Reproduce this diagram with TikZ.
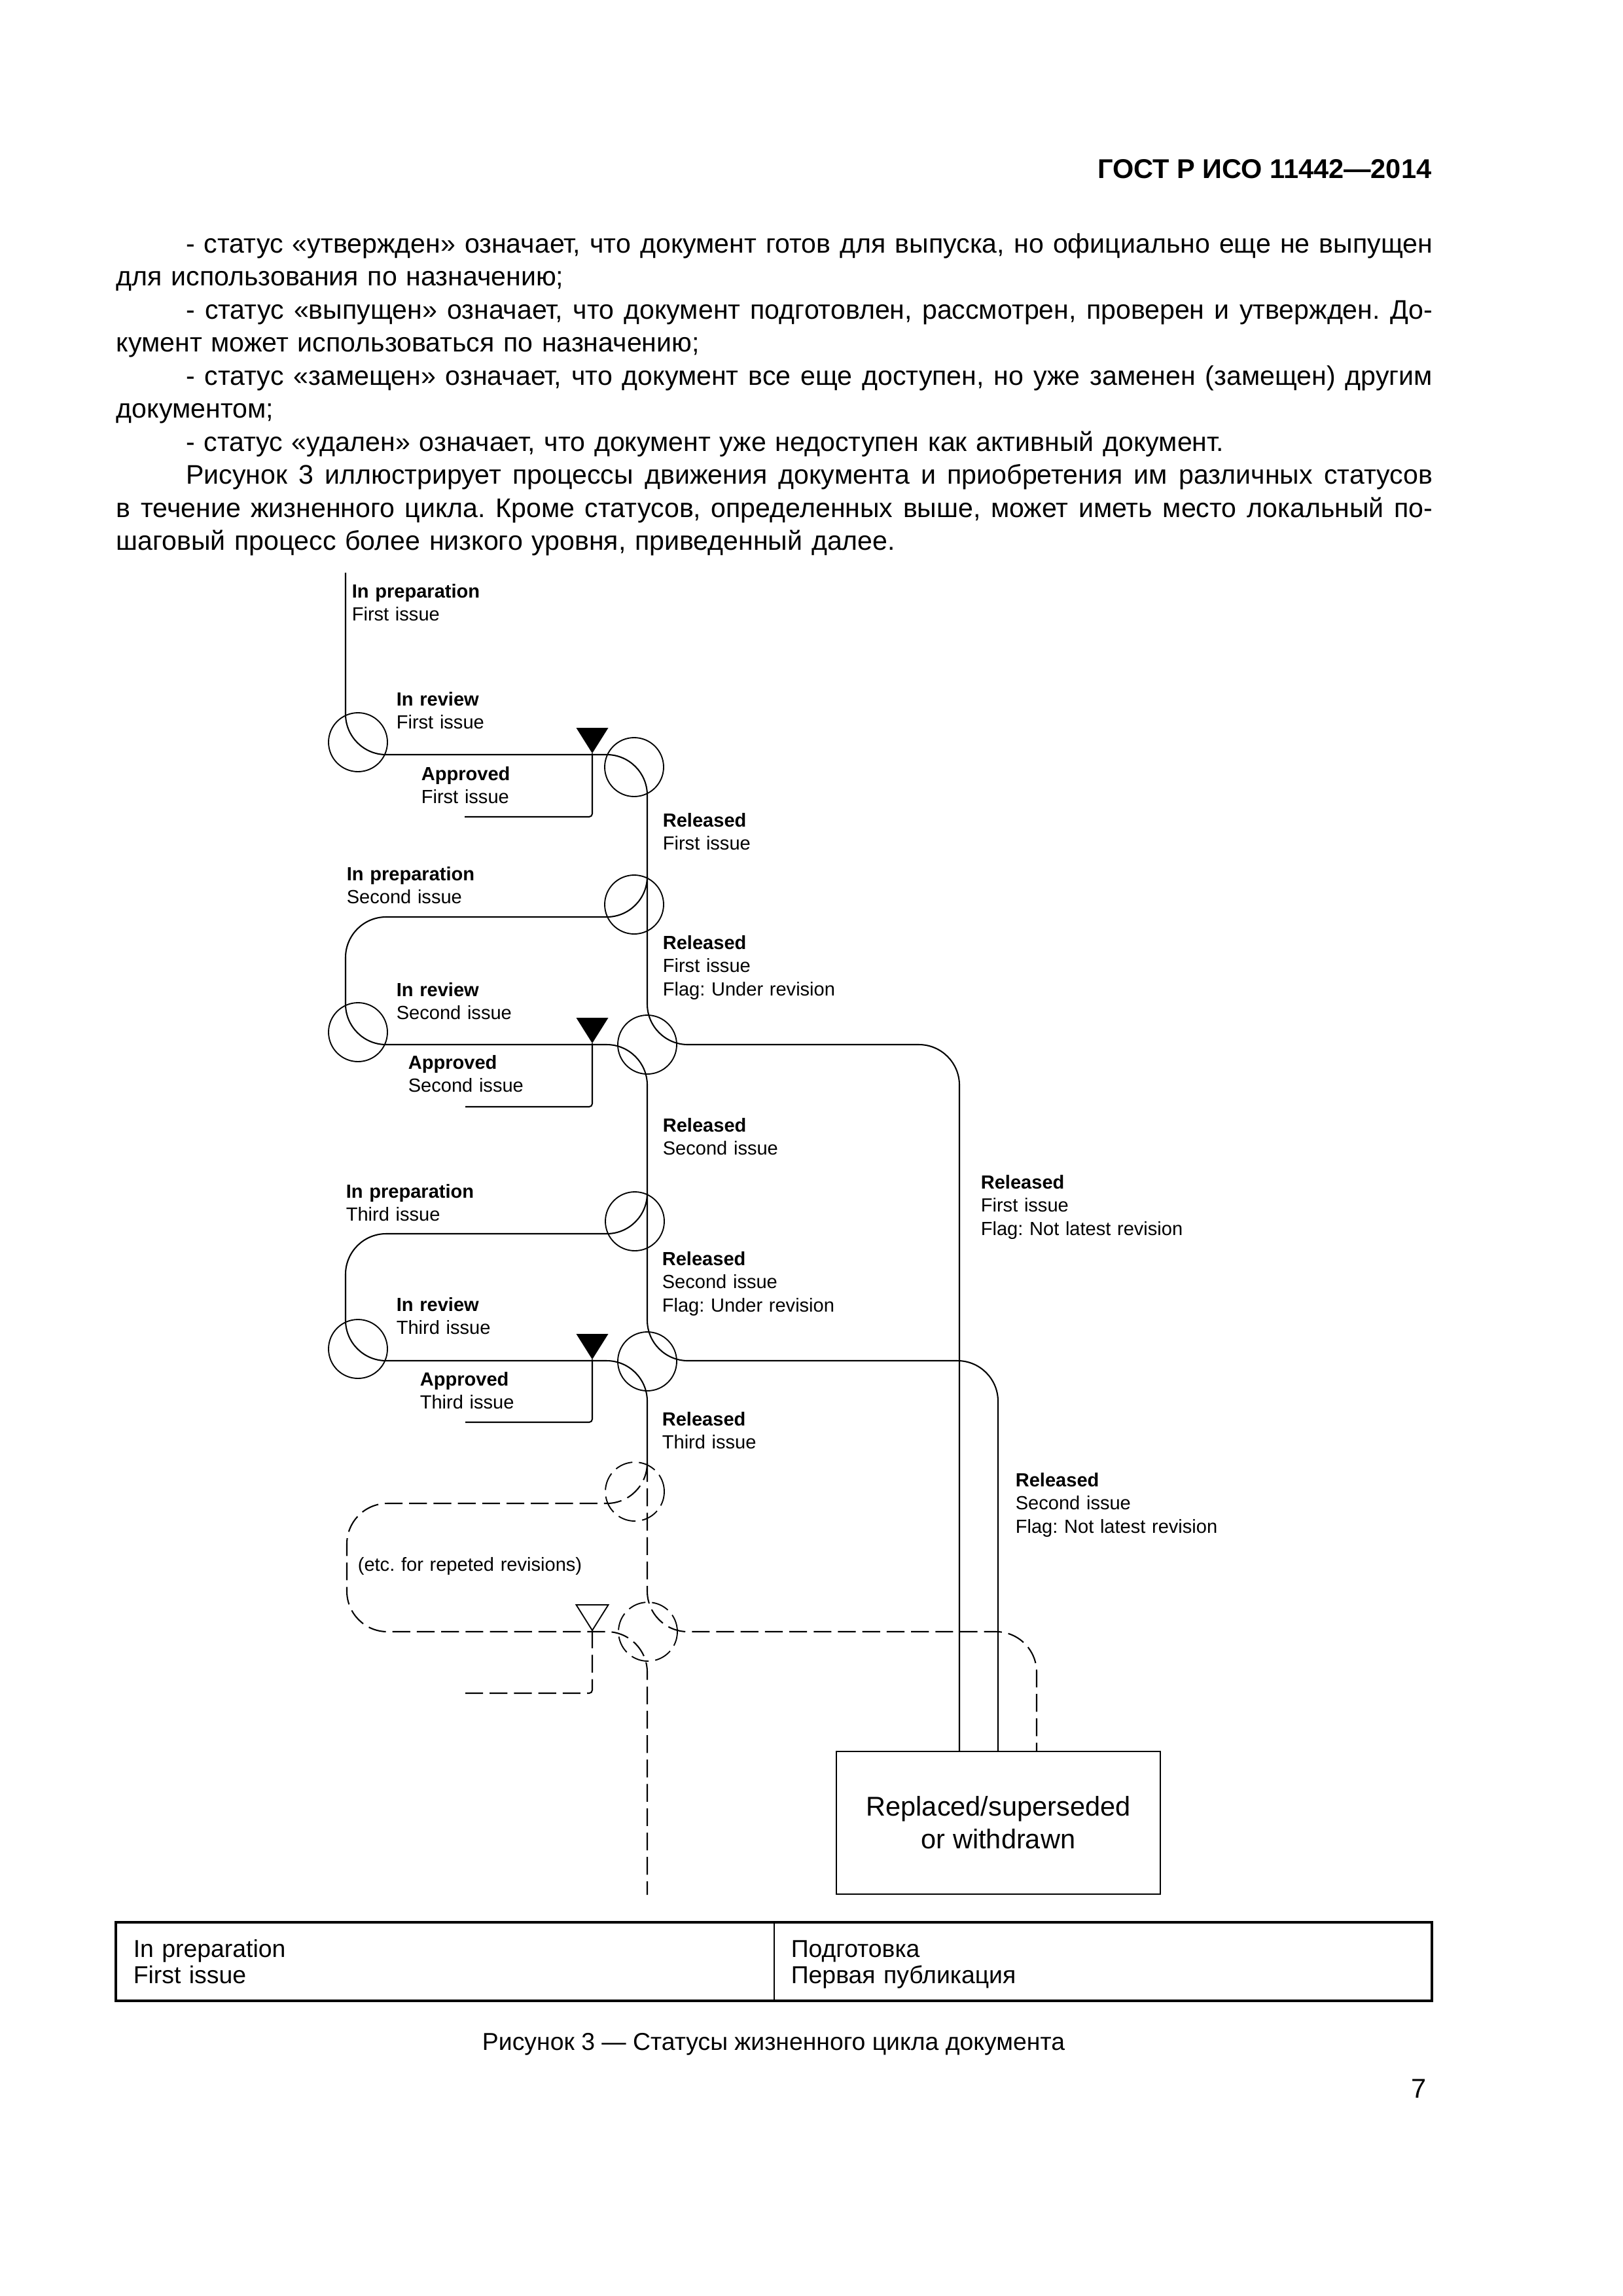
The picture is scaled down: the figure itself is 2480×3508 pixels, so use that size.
\documentclass[tikz,border=0pt]{standalone}
\usepackage{fontspec}
\setmainfont{Liberation Sans}
\frenchspacing
\newcommand{\jline}[2]{\leavevmode\hbox to #1{\spaceskip=0.278em plus 3em minus 0.08em\relax #2}}
\begin{document}
\begin{tikzpicture}[x=0.0846774mm, y=-0.0846774mm,
  lc/.style={line width=0.5pt, rounded corners=5.25mm},
  dlc/.style={lc, dash pattern=on 2.3mm off 0.85mm},
  alc/.style={line width=0.5pt, rounded corners=0.4mm},
  jc/.style={circle, draw, line width=0.45pt, minimum size=7.62mm, inner sep=0pt},
  djc/.style={jc, dash pattern=on 2.3mm off 0.85mm},
  lbl/.style={anchor=base west, inner sep=0pt, align=left, text width=45mm, font=\fontsize{7}{8.55}\selectfont},
  body/.style={anchor=base west, inner sep=0pt, align=left, text width=170.3mm, font=\fontsize{9.9}{12.17}\selectfont},
  cell/.style={anchor=base west, inner sep=0pt, align=left, text width=80mm, font=\fontsize{9}{9.85}\selectfont}
]
\fill[white] (0,0) rectangle (2480,3508);
\useasboundingbox (0,0) rectangle (2480,3508);

% header and body text
\node[anchor=base east, inner sep=0pt, font=\bfseries\fontsize{10}{12}\selectfont] (hdr) at (2188,272) {ГОСТ Р ИСО 11442—2014};
\node[body] (txt) at (177,386) {%
\hspace*{9mm}\jline{161.3mm}{- статус «утвержден» означает, что документ готов для выпуска, но официально еще не выпущен}\\
для использования по назначению;\\
\hspace*{9mm}\jline{161.3mm}{- статус «выпущен» означает, что документ подготовлен, рассмотрен, проверен и утвержден. До-}\\
кумент может использоваться по назначению;\\
\hspace*{9mm}\jline{161.3mm}{- статус «замещен» означает, что документ все еще доступен, но уже заменен (замещен) другим}\\
документом;\\
\hspace*{9mm}- статус «удален» означает, что документ уже недоступен как активный документ.\\
\hspace*{9mm}\jline{161.3mm}{Рисунок 3 иллюстрирует процессы движения документа и приобретения им различных статусов}\\
\jline{170.3mm}{в течение жизненного цикла. Кроме статусов, определенных выше, может иметь место локальный по-}\\
шаговый процесс более низкого уровня, приведенный далее.};

% junction circles
\node[jc] (c1) at (547,1134) {};
\node[jc] (c2) at (969,1172) {};
\node[jc] (c3) at (969,1382) {};
\node[jc] (c4) at (547,1577) {};
\node[jc] (c5) at (989,1596) {};
\node[jc] (c6) at (970,1866) {};
\node[jc] (c7) at (547,2061) {};
\node[jc] (c8) at (989,2080) {};
\node[djc] (c9) at (970,2279) {};
\node[djc] (c10) at (990,2493) {};

% final box
\node[draw, line width=0.6pt, minimum width=41.9mm, minimum height=18.46mm, inner sep=0pt, align=center, font=\fontsize{10}{12}\selectfont] (box) at (1525.5,2785) {Replaced/superseded\\or withdrawn};
\coordinate (x1) at (1466,0);
\coordinate (x2) at (1525,0);
\coordinate (x3) at (1584,0);

% approval markers
\coordinate (t1) at (905,1151);
\coordinate (t2) at (905,1594);
\coordinate (t3) at (905,2077);
\coordinate (t4) at (905,2491);
\fill (t1) -- ++(-24.5,-39) -- ++(49,0) -- cycle;
\fill (t2) -- ++(-24.5,-39) -- ++(49,0) -- cycle;
\fill (t3) -- ++(-24.5,-39) -- ++(49,0) -- cycle;
\draw[line width=0.45pt] (t4) -- ++(-24.5,-39) -- ++(49,0) -- cycle;

% lifecycle paths
\draw[lc] (528,875) -- (528,1153) -- (989,1153) -- (989,1596) -- (1466,1596) -- (box.north -| x1);
\draw[lc] (989,1339) -- (989,1401) -- (528,1401) -- (528,1596) -- (989,1596) -- (989,2079) -- (1525,2079) -- (box.north -| x2);
\draw[lc] (989,1823) -- (989,1885) -- (528,1885) -- (528,2079) -- (989,2079) -- (989,2237);
\draw[dlc] (989,2237) -- (989,2493) -- (1584,2493) -- (box.north -| x3);
\draw[dlc] (989,2235) -- (989,2297) -- (530,2297) -- (530,2493) -- (989,2493) -- (989,2895);

% approved feeds
\draw[alc] (710,1248) -| (t1);
\draw[alc] (711,1691) -| (t2);
\draw[alc] (711,2173) -| (t3);
\draw[alc, dash pattern=on 2.3mm off 0.85mm] (711,2587) -| (t4);

% labels
\node[lbl] (l1) at (537,913) {\textbf{In preparation}\\First issue};
\node[lbl] (l2) at (605,1078) {\textbf{In review}\\First issue};
\node[lbl] (l3) at (643,1192) {\textbf{Approved}\\First issue};
\node[lbl] (l4) at (1012,1263) {\textbf{Released}\\First issue};
\node[lbl] (l5) at (529,1345) {\textbf{In preparation}\\Second issue};
\node[lbl] (l6) at (1012,1450) {\textbf{Released}\\First issue\\Flag: Under revision};
\node[lbl] (l7) at (605,1522) {\textbf{In review}\\Second issue};
\node[lbl] (l8) at (623,1633) {\textbf{Approved}\\Second issue};
\node[lbl] (l9) at (1012,1729) {\textbf{Released}\\Second issue};
\node[lbl] (l10) at (1498,1816) {\textbf{Released}\\First issue\\Flag: Not latest revision};
\node[lbl] (l11) at (528,1830) {\textbf{In preparation}\\Third issue};
\node[lbl] (l12) at (1011,1933) {\textbf{Released}\\Second issue\\Flag: Under revision};
\node[lbl] (l13) at (605,2003) {\textbf{In review}\\Third issue};
\node[lbl] (l14) at (641,2117) {\textbf{Approved}\\Third issue};
\node[lbl] (l15) at (1011,2178) {\textbf{Released}\\Third issue};
\node[lbl] (l16) at (1551,2271) {\textbf{Released}\\Second issue\\Flag: Not latest revision};
\node[lbl] (l17) at (546,2400) {(etc. for repeted revisions)};

% key table
\draw[line width=0.8pt] (177,2937) rectangle (2188,3057);
\draw[line width=0.5pt] (1183,2937) -- (1183,3057);
\node[cell] (tl) at (203,2990) {In preparation\\First issue};
\node[cell] (tr) at (1208,2990) {Подготовка\\Первая публикация};

% caption and page number
\node[anchor=base, inner sep=0pt, font=\fontsize{9}{11}\selectfont] (cap) at (1182,3132) {Рисунок 3 — Статусы жизненного цикла документа};
\node[anchor=base east, inner sep=0pt, font=\fontsize{10}{12}\selectfont] (pg) at (2180,3205) {7};
\end{tikzpicture}
\end{document}
